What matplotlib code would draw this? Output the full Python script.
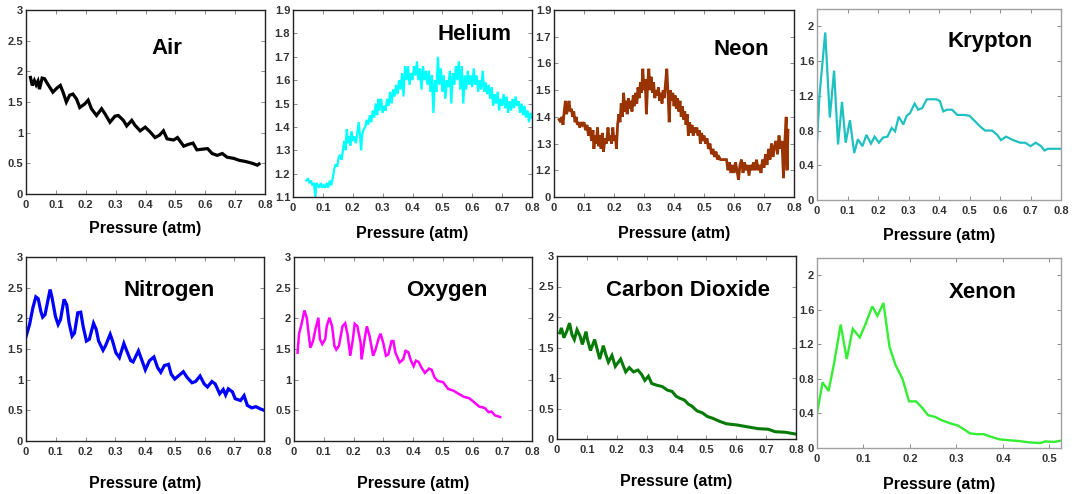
import matplotlib
matplotlib.use("Agg")
import matplotlib.pyplot as plt

plt.rcParams["font.family"] = ["Liberation Sans", "DejaVu Sans"]
plt.rcParams["font.weight"] = "bold"

# ---------------- data ----------------
air_x = [0.015, 0.021, 0.028, 0.034, 0.040, 0.045, 0.054, 0.062, 0.073, 0.090, 0.104, 0.115,
         0.124, 0.135, 0.146, 0.157, 0.169, 0.180, 0.197, 0.208, 0.219, 0.236, 0.253, 0.264,
         0.281, 0.298, 0.309, 0.326, 0.337, 0.354, 0.365, 0.382, 0.399, 0.416, 0.432, 0.447,
         0.460, 0.472, 0.494, 0.507, 0.528, 0.544, 0.559, 0.572, 0.589, 0.608, 0.623, 0.640,
         0.657, 0.673, 0.696, 0.713, 0.735, 0.758, 0.774, 0.780]
air_y = [1.90, 1.77, 1.85, 1.78, 1.84, 1.71, 1.89, 1.88, 1.79, 1.66, 1.73, 1.77,
         1.66, 1.50, 1.61, 1.63, 1.55, 1.41, 1.47, 1.53, 1.39, 1.28, 1.39, 1.31,
         1.17, 1.27, 1.28, 1.20, 1.11, 1.20, 1.12, 1.03, 1.09, 1.01, 0.92, 0.96,
         1.03, 0.90, 0.88, 0.92, 0.78, 0.81, 0.83, 0.72, 0.73, 0.74, 0.66, 0.63,
         0.66, 0.60, 0.58, 0.55, 0.53, 0.50, 0.47, 0.49]

helium_x = [0.045, 0.05, 0.055, 0.06, 0.065, 0.07, 0.075, 0.078, 0.083, 0.088, 0.093, 0.098,
            0.103, 0.108, 0.113, 0.118, 0.123, 0.128, 0.133, 0.138, 0.143, 0.148, 0.153, 0.158,
            0.163, 0.168, 0.172, 0.176, 0.18, 0.184, 0.188, 0.192, 0.196, 0.2, 0.205, 0.21,
            0.215, 0.22, 0.225, 0.228, 0.232, 0.237, 0.242, 0.247, 0.252, 0.257, 0.262, 0.267,
            0.272, 0.277, 0.282, 0.286, 0.29, 0.295, 0.3, 0.305, 0.31, 0.315, 0.32, 0.325,
            0.33, 0.335, 0.34, 0.345, 0.35, 0.355, 0.36, 0.365, 0.37, 0.375, 0.38, 0.385,
            0.39, 0.395, 0.4, 0.405, 0.41, 0.415, 0.42, 0.425, 0.43, 0.435, 0.44, 0.445,
            0.45, 0.455, 0.46, 0.465, 0.47, 0.475, 0.48, 0.485, 0.49, 0.495, 0.5, 0.505,
            0.51, 0.515, 0.52, 0.525, 0.53, 0.535, 0.54, 0.545, 0.55, 0.555, 0.56, 0.565,
            0.57, 0.575, 0.58, 0.585, 0.59, 0.595, 0.6, 0.605, 0.61, 0.615, 0.62, 0.625,
            0.63, 0.635, 0.64, 0.645, 0.65, 0.655, 0.66, 0.665, 0.67, 0.675, 0.68, 0.685,
            0.69, 0.695, 0.7, 0.705, 0.71, 0.715, 0.72, 0.725, 0.73, 0.735, 0.74, 0.745,
            0.75, 0.755, 0.76, 0.765, 0.77, 0.775, 0.78, 0.785, 0.79, 0.795, 0.8]
helium_y = [1.17, 1.18, 1.16, 1.17, 1.15, 1.16, 1.10, 1.16, 1.15, 1.14, 1.16, 1.14,
            1.15, 1.14, 1.16, 1.14, 1.17, 1.15, 1.18, 1.22, 1.24, 1.23, 1.27, 1.28,
            1.26, 1.31, 1.34, 1.30, 1.39, 1.33, 1.36, 1.32, 1.38, 1.34, 1.36, 1.33,
            1.37, 1.42, 1.35, 1.30, 1.37, 1.39, 1.40, 1.43, 1.41, 1.45, 1.42, 1.47,
            1.44, 1.50, 1.45, 1.52, 1.47, 1.52, 1.46, 1.49, 1.47, 1.52, 1.49, 1.55,
            1.50, 1.56, 1.53, 1.58, 1.54, 1.60, 1.56, 1.63, 1.53, 1.66, 1.60, 1.66,
            1.58, 1.63, 1.60, 1.66, 1.62, 1.68, 1.60, 1.65, 1.56, 1.66, 1.60, 1.64,
            1.58, 1.64, 1.55, 1.62, 1.46, 1.60, 1.55, 1.70, 1.58, 1.65, 1.55, 1.62,
            1.52, 1.60, 1.57, 1.64, 1.50, 1.63, 1.58, 1.66, 1.60, 1.68, 1.56, 1.66,
            1.50, 1.62, 1.56, 1.64, 1.58, 1.62, 1.57, 1.65, 1.58, 1.62, 1.55, 1.60,
            1.56, 1.64, 1.55, 1.59, 1.54, 1.58, 1.52, 1.57, 1.49, 1.54, 1.50, 1.55,
            1.47, 1.52, 1.49, 1.54, 1.48, 1.53, 1.46, 1.51, 1.47, 1.52, 1.48, 1.53,
            1.49, 1.51, 1.46, 1.50, 1.45, 1.49, 1.44, 1.47, 1.42, 1.46, 1.44]

neon_x = [0.017, 0.022, 0.026, 0.03, 0.034, 0.038, 0.042, 0.046, 0.05, 0.054, 0.058, 0.062,
          0.066, 0.07, 0.074, 0.078, 0.082, 0.086, 0.09, 0.095, 0.1, 0.105, 0.11, 0.115,
          0.12, 0.125, 0.13, 0.133, 0.137, 0.141, 0.145, 0.149, 0.153, 0.157, 0.161, 0.165,
          0.17, 0.175, 0.18, 0.184, 0.188, 0.192, 0.196, 0.2, 0.205, 0.208, 0.212, 0.216,
          0.22, 0.224, 0.228, 0.232, 0.236, 0.24, 0.244, 0.248, 0.252, 0.256, 0.26, 0.264,
          0.268, 0.272, 0.276, 0.28, 0.284, 0.288, 0.292, 0.296, 0.3, 0.304, 0.308, 0.312,
          0.316, 0.32, 0.324, 0.328, 0.332, 0.336, 0.34, 0.344, 0.348, 0.352, 0.356, 0.36,
          0.364, 0.368, 0.372, 0.376, 0.38, 0.384, 0.388, 0.392, 0.396, 0.4, 0.404, 0.408,
          0.412, 0.416, 0.42, 0.424, 0.428, 0.432, 0.436, 0.44, 0.444, 0.448, 0.452, 0.456,
          0.46, 0.464, 0.468, 0.472, 0.476, 0.48, 0.484, 0.488, 0.492, 0.496, 0.5, 0.505,
          0.51, 0.515, 0.52, 0.525, 0.53, 0.535, 0.54, 0.545, 0.55, 0.555, 0.56, 0.565,
          0.57, 0.575, 0.58, 0.585, 0.59, 0.595, 0.6, 0.605, 0.61, 0.615, 0.62, 0.625,
          0.63, 0.635, 0.64, 0.645, 0.65, 0.655, 0.66, 0.665, 0.67, 0.675, 0.68, 0.685,
          0.69, 0.695, 0.70, 0.705, 0.71, 0.715, 0.72, 0.725, 0.73, 0.735, 0.74, 0.745,
          0.75, 0.755, 0.76, 0.765, 0.77, 0.774, 0.777, 0.78]
neon_y = [1.39, 1.38, 1.40, 1.37, 1.42, 1.46, 1.41, 1.43, 1.46, 1.42, 1.43, 1.40,
          1.42, 1.38, 1.40, 1.37, 1.38, 1.36, 1.38, 1.37, 1.38, 1.35, 1.37, 1.33,
          1.36, 1.31, 1.35, 1.28, 1.33, 1.30, 1.36, 1.29, 1.33, 1.28, 1.34, 1.27,
          1.32, 1.30, 1.36, 1.31, 1.33, 1.30, 1.36, 1.31, 1.33, 1.28, 1.37, 1.41,
          1.38, 1.45, 1.40, 1.49, 1.42, 1.46, 1.41, 1.47, 1.43, 1.46, 1.42, 1.48,
          1.44, 1.49, 1.45, 1.51, 1.47, 1.53, 1.49, 1.58, 1.50, 1.54, 1.41, 1.52,
          1.58, 1.50, 1.55, 1.49, 1.53, 1.47, 1.50, 1.48, 1.51, 1.46, 1.49, 1.45,
          1.50, 1.47, 1.53, 1.58, 1.49, 1.38, 1.50, 1.46, 1.49, 1.44, 1.48, 1.43,
          1.47, 1.42, 1.46, 1.40, 1.44, 1.39, 1.42, 1.37, 1.41, 1.33, 1.38, 1.34,
          1.37, 1.33, 1.36, 1.34, 1.36, 1.33, 1.35, 1.30, 1.34, 1.31, 1.33, 1.30,
          1.32, 1.28, 1.30, 1.26, 1.28, 1.25, 1.27, 1.24, 1.25, 1.24, 1.24, 1.24,
          1.24, 1.24, 1.20, 1.23, 1.19, 1.22, 1.19, 1.23, 1.20, 1.165, 1.22, 1.24,
          1.19, 1.23, 1.20, 1.22, 1.18, 1.22, 1.20, 1.23, 1.20, 1.24, 1.20, 1.22,
          1.19, 1.24, 1.21, 1.26, 1.22, 1.28, 1.24, 1.30, 1.25, 1.29, 1.31, 1.26,
          1.33, 1.28, 1.31, 1.17, 1.32, 1.40, 1.20, 1.35]

krypton_x = [0.0, 0.008, 0.027, 0.042, 0.056, 0.069, 0.082, 0.094, 0.108, 0.122, 0.134, 0.149,
             0.162, 0.177, 0.189, 0.203, 0.217, 0.231, 0.245, 0.256, 0.268, 0.283, 0.294, 0.305,
             0.32, 0.332, 0.345, 0.36, 0.391, 0.403, 0.414, 0.426, 0.443, 0.46, 0.483, 0.50,
             0.517, 0.534, 0.551, 0.574, 0.591, 0.603, 0.62, 0.643, 0.666, 0.683, 0.70, 0.717,
             0.735, 0.746, 0.757, 0.78, 0.80]
krypton_y = [0.66, 1.20, 1.93, 0.95, 1.49, 0.64, 1.13, 0.66, 0.92, 0.54, 0.70, 0.62,
             0.75, 0.65, 0.73, 0.66, 0.72, 0.73, 0.83, 0.79, 0.96, 0.87, 0.97, 1.00,
             1.11, 1.04, 1.06, 1.16, 1.16, 1.14, 1.02, 1.04, 1.04, 0.98, 0.98, 0.97,
             0.91, 0.85, 0.80, 0.80, 0.75, 0.69, 0.73, 0.69, 0.66, 0.66, 0.62, 0.66,
             0.62, 0.57, 0.59, 0.59, 0.59]

nitrogen_x = [0.0, 0.012, 0.023, 0.033, 0.041, 0.050, 0.056, 0.064, 0.076, 0.081, 0.087, 0.099,
              0.108, 0.116, 0.128, 0.137, 0.145, 0.155, 0.163, 0.174, 0.184, 0.192, 0.203, 0.213,
              0.227, 0.236, 0.244, 0.259, 0.267, 0.283, 0.291, 0.302, 0.314, 0.329, 0.337, 0.352,
              0.36, 0.378, 0.39, 0.401, 0.415, 0.43, 0.442, 0.453, 0.465, 0.479, 0.488, 0.50,
              0.512, 0.529, 0.541, 0.558, 0.57, 0.585, 0.599, 0.61, 0.625, 0.636, 0.651, 0.663,
              0.671, 0.68, 0.694, 0.703, 0.721, 0.733, 0.744, 0.759, 0.773, 0.785, 0.80]
nitrogen_y = [1.70, 1.90, 2.17, 2.35, 2.32, 2.11, 2.02, 2.06, 2.35, 2.47, 2.35, 2.03,
              1.90, 1.98, 2.31, 2.22, 1.92, 1.71, 1.76, 2.09, 2.10, 1.87, 1.63, 1.66,
              1.92, 1.82, 1.63, 1.48, 1.55, 1.74, 1.63, 1.44, 1.36, 1.59, 1.49, 1.31,
              1.29, 1.47, 1.31, 1.16, 1.31, 1.37, 1.20, 1.12, 1.23, 1.25, 1.09, 1.01,
              1.06, 1.13, 1.04, 0.95, 0.97, 1.06, 0.93, 0.88, 0.97, 0.93, 0.77, 0.84,
              0.75, 0.85, 0.80, 0.69, 0.66, 0.74, 0.58, 0.54, 0.56, 0.53, 0.50]

oxygen_x = [0.012, 0.017, 0.026, 0.035, 0.043, 0.05, 0.055, 0.064, 0.072, 0.082, 0.087, 0.095,
            0.105, 0.11, 0.119, 0.128, 0.136, 0.142, 0.151, 0.163, 0.172, 0.18, 0.189, 0.198,
            0.204, 0.213, 0.224, 0.227, 0.239, 0.245, 0.254, 0.266, 0.274, 0.285, 0.291, 0.30,
            0.309, 0.317, 0.328, 0.334, 0.341, 0.355, 0.367, 0.375, 0.384, 0.393, 0.402, 0.41,
            0.419, 0.428, 0.44, 0.454, 0.463, 0.472, 0.483, 0.501, 0.518, 0.536, 0.553, 0.571,
            0.588, 0.606, 0.623, 0.641, 0.654, 0.664, 0.675, 0.693]
oxygen_y = [1.44, 1.75, 1.92, 2.13, 2.01, 1.71, 1.52, 1.63, 1.82, 2.01, 1.66, 1.58,
            1.66, 1.87, 2.01, 1.87, 1.55, 1.49, 1.55, 1.87, 1.92, 1.74, 1.39, 1.66,
            1.91, 1.87, 1.60, 1.33, 1.71, 1.87, 1.71, 1.39, 1.49, 1.68, 1.75, 1.60,
            1.39, 1.41, 1.63, 1.63, 1.44, 1.28, 1.33, 1.47, 1.45, 1.31, 1.22, 1.31,
            1.29, 1.20, 1.11, 1.18, 1.16, 1.04, 0.98, 0.96, 0.85, 0.82, 0.77, 0.72,
            0.70, 0.63, 0.56, 0.54, 0.47, 0.48, 0.42, 0.39]

co2_x = [0.009, 0.015, 0.023, 0.033, 0.042, 0.05, 0.058, 0.067, 0.077, 0.085, 0.097, 0.102,
         0.112, 0.126, 0.135, 0.143, 0.155, 0.163, 0.172, 0.184, 0.195, 0.213, 0.221, 0.23,
         0.242, 0.256, 0.271, 0.283, 0.294, 0.306, 0.317, 0.335, 0.352, 0.37, 0.385, 0.399,
         0.41, 0.426, 0.44, 0.451, 0.469, 0.486, 0.503, 0.521, 0.544, 0.567, 0.602, 0.637,
         0.672, 0.707, 0.73, 0.765, 0.80]
co2_y = [1.74, 1.82, 1.66, 1.77, 1.90, 1.71, 1.63, 1.79, 1.69, 1.55, 1.76, 1.63,
         1.45, 1.63, 1.46, 1.31, 1.53, 1.39, 1.26, 1.37, 1.19, 1.31, 1.21, 1.10,
         1.17, 1.10, 1.13, 1.06, 0.96, 1.03, 0.91, 0.88, 0.86, 0.80, 0.78, 0.70,
         0.67, 0.64, 0.57, 0.54, 0.46, 0.43, 0.37, 0.34, 0.29, 0.25, 0.23, 0.20,
         0.17, 0.16, 0.12, 0.11, 0.08]

xenon_x = [0.0, 0.012, 0.025, 0.036, 0.051, 0.064, 0.077, 0.092, 0.104, 0.119, 0.13, 0.143,
           0.156, 0.169, 0.184, 0.198, 0.213, 0.224, 0.239, 0.254, 0.269, 0.284, 0.303, 0.318,
           0.329, 0.344, 0.359, 0.374, 0.393, 0.412, 0.435, 0.457, 0.48, 0.491, 0.51, 0.525]
xenon_y = [0.40, 0.76, 0.66, 0.96, 1.43, 1.03, 1.38, 1.28, 1.43, 1.64, 1.53, 1.68,
           1.17, 0.96, 0.80, 0.54, 0.54, 0.48, 0.38, 0.36, 0.32, 0.29, 0.26, 0.21,
           0.17, 0.16, 0.16, 0.13, 0.10, 0.09, 0.08, 0.065, 0.057, 0.076, 0.07, 0.085]

names = ["Air", "Helium", "Neon", "Krypton", "Nitrogen", "Oxygen", "Carbon Dioxide", "Xenon"]
series_x = [air_x, helium_x, neon_x, krypton_x, nitrogen_x, oxygen_x, co2_x, xenon_x]
series_y = [air_y, helium_y, neon_y, krypton_y, nitrogen_y, oxygen_y, co2_y, xenon_y]

x_ticks_08 = [0, 0.1, 0.2, 0.3, 0.4, 0.5, 0.6, 0.7, 0.8]
x_labels_08 = ["0", "0.1", "0.2", "0.3", "0.4", "0.5", "0.6", "0.7", "0.8"]
x_ticks_05 = [0, 0.1, 0.2, 0.3, 0.4, 0.5]
x_labels_05 = ["0", "0.1", "0.2", "0.3", "0.4", "0.5"]
y_ticks_3 = [0, 0.5, 1, 1.5, 2, 2.5, 3]
y_labels_3 = ["0", "0.5", "1", "1.5", "2", "2.5", "3"]
y_ticks_he = [1.1, 1.2, 1.3, 1.4, 1.5, 1.6, 1.7, 1.8, 1.9]
y_labels_he = ["1.1", "1.2", "1.3", "1.4", "1.5", "1.6", "1.7", "1.8", "1.9"]
y_ticks_ne = [1.1, 1.2, 1.3, 1.4, 1.5, 1.6, 1.7, 1.8]
y_labels_ne = ["0", "1.2", "1.3", "1.4", "1.5", "1.6", "1.7", "1.9"]
y_ticks_22 = [0, 0.4, 0.8, 1.2, 1.6, 2.0]
y_labels_22 = ["0", "0.4", "0.8", "1.2", "1.6", "2"]

# ---------------- styling / layout ----------------
W, H = 1072, 494
colors = ["black", "#00ffff", "#993300", "#1fc0c0", "#0000ff", "#ff00ff", "#067a06", "#33ee33"]
widths = [2.3, 1.6, 2.0, 1.6, 2.3, 1.8, 2.2, 1.7]
# axes boxes in pixels: left, top, right, bottom
boxes = [(26, 10, 265, 194), (293, 10, 532, 197), (554, 10, 794, 197), (817, 9, 1061, 200),
         (26, 257, 264, 441), (294, 257, 532, 441), (557, 256, 796, 439), (817, 258, 1061, 448)]
title_pos = [(0.59, 0.79), (0.76, 0.87), (0.78, 0.79), (0.71, 0.83),
             (0.60, 0.82), (0.64, 0.82), (0.55, 0.81), (0.68, 0.82)]
label_pads = [8, 10, 10, 9, 14, 14, 14, 10]
xlims = [(0, 0.8)] * 7 + [(0, 0.525)]
ylims = [(0, 3), (1.1, 1.9), (1.1, 1.8), (0, 2.2), (0, 3), (0, 3), (0, 3), (0, 2.2)]
xt = [(x_ticks_08, x_labels_08)] * 7 + [(x_ticks_05, x_labels_05)]
yt = [(y_ticks_3, y_labels_3), (y_ticks_he, y_labels_he), (y_ticks_ne, y_labels_ne),
      (y_ticks_22, y_labels_22), (y_ticks_3, y_labels_3), (y_ticks_3, y_labels_3),
      (y_ticks_3, y_labels_3), (y_ticks_22, y_labels_22)]

fig = plt.figure(figsize=(W / 100, H / 100), dpi=100)

for i in range(8):
    l, t, r, b = boxes[i]
    ax = fig.add_axes([l / W, 1 - b / H, (r - l) / W, (b - t) / H])
    ax.plot(series_x[i], series_y[i], color=colors[i], lw=widths[i], solid_joinstyle="miter")
    ax.set_xlim(*xlims[i])
    ax.set_ylim(*ylims[i])
    ax.set_xticks(xt[i][0])
    ax.set_xticklabels(xt[i][1])
    ax.set_yticks(yt[i][0])
    ax.set_yticklabels(yt[i][1])
    light = i in (3, 7)
    spine_c = "#a0a0a0" if light else "#222222"
    for s in ax.spines.values():
        s.set_color(spine_c)
        s.set_linewidth(1.0)
    ax.tick_params(direction="in", top=True, right=True, length=3, width=0.6,
                   color="#777777", labelsize=8, labelcolor="#333333")
    ax.tick_params(axis="x", pad=4)
    ax.tick_params(axis="y", pad=2)
    for lab in ax.get_xticklabels() + ax.get_yticklabels():
        lab.set_fontweight("bold")
    ax.set_xlabel("Pressure (atm)", fontsize=11.5, fontweight="bold", labelpad=label_pads[i])
    ax.text(title_pos[i][0], title_pos[i][1], names[i], transform=ax.transAxes,
            ha="center", va="center", fontsize=16, fontweight="bold")

fig.savefig("out.png", dpi=100)
